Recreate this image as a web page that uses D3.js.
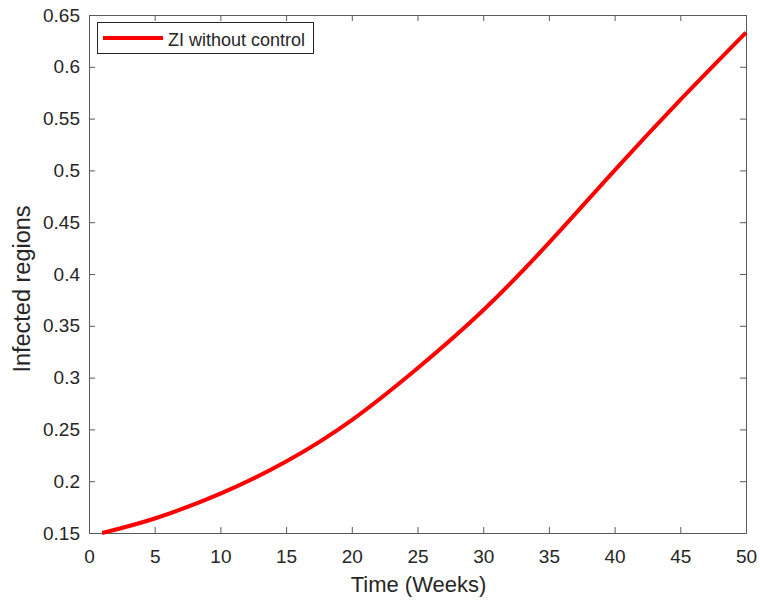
<!DOCTYPE html>
<html>
<head>
<meta charset="utf-8">
<script src="https://cdn.jsdelivr.net/npm/d3@7"></script>
<style>
  body { margin: 0; background: #fff; }
  text { font-family: "Liberation Sans", Arial, Helvetica, sans-serif; fill: #262626; }
</style>
</head>
<body>
<div id="root"></div>
<script>
// values
const weeks = [1, 5, 10, 15, 20, 25, 30, 35, 40, 45, 50]
const infected = [0.150, 0.164, 0.188, 0.219, 0.259, 0.309, 0.365, 0.430, 0.500, 0.568, 0.633]
const xTicks = [0, 5, 10, 15, 20, 25, 30, 35, 40, 45, 50]
const yTicks = [0.15, 0.2, 0.25, 0.3, 0.35, 0.4, 0.45, 0.5, 0.55, 0.6, 0.65]
const seriesName = "ZI without control"

const w = 760
const h = 603
const margin = {left: 89, right: 14, top: 15, bottom: 70}

const svg = d3.select("#root")
    .append("svg")
    .attr("width", w)
    .attr("height", h)

const x = d3.scaleLinear().domain([0, 50]).range([margin.left, w - margin.right])
const y = d3.scaleLinear().domain([0.15, 0.65]).range([h - margin.bottom, margin.top])

const axisColor = "#5a5a5a"
const tickLen = 6

// bottom + top
const xb = svg.append("g")
    .attr("transform", `translate(0,${y(0.15)})`)
    .call(d3.axisBottom(x).tickValues(xTicks).tickSize(-tickLen).tickPadding(17).tickFormat(d3.format("d")))
const xt = svg.append("g")
    .attr("transform", `translate(0,${y(0.65)})`)
    .call(d3.axisTop(x).tickValues(xTicks).tickSize(-tickLen).tickFormat(""))
// left + right
const yl = svg.append("g")
    .attr("transform", `translate(${x(0)},0)`)
    .call(d3.axisLeft(y).tickValues(yTicks).tickSize(-tickLen).tickPadding(9).tickFormat(d => String(+d.toFixed(2))))
const yr = svg.append("g")
    .attr("transform", `translate(${x(50)},0)`)
    .call(d3.axisRight(y).tickValues(yTicks).tickSize(-tickLen).tickFormat(""))

;[xb, xt, yl, yr].forEach(g => {
    g.select(".domain").attr("stroke", axisColor).attr("stroke-width", 1)
    g.selectAll(".tick line").attr("stroke", axisColor)
    g.selectAll("text").attr("font-size", 19).attr("fill", "#262626")
        .style("font-family", '"Liberation Sans", Arial, sans-serif')
})

const line = d3.line()
    .x((d, i) => x(weeks[i]))
    .y(d => y(d))
    .curve(d3.curveNatural)

svg.append("path")
    .datum(infected)
    .attr("fill", "none")
    .attr("stroke", "#ff0000")
    .attr("stroke-width", 4)
    .attr("d", line)

// axis titles
svg.append("text")
    .attr("x", (x(0) + x(50)) / 2 + 1)
    .attr("y", 592)
    .attr("text-anchor", "middle")
    .attr("font-size", 22)
    .text("Time (Weeks)")

svg.append("text")
    .attr("transform", "translate(30,289) rotate(-90)")
    .attr("text-anchor", "middle")
    .attr("font-size", 23.5)
    .text("Infected regions")

// legend
const lg = svg.append("g").attr("transform", "translate(97,22)")
lg.append("rect")
    .attr("x", 0.5).attr("y", 0.5)
    .attr("width", 216).attr("height", 31)
    .attr("fill", "#fff")
    .attr("stroke", "#262626")
    .attr("stroke-width", 1)
lg.append("line")
    .attr("x1", 6).attr("x2", 66)
    .attr("y1", 16).attr("y2", 16)
    .attr("stroke", "#ff0000")
    .attr("stroke-width", 4)
lg.append("text")
    .attr("x", 71).attr("y", 23.5)
    .attr("font-size", 18)
    .text(seriesName)
</script>
</body>
</html>
